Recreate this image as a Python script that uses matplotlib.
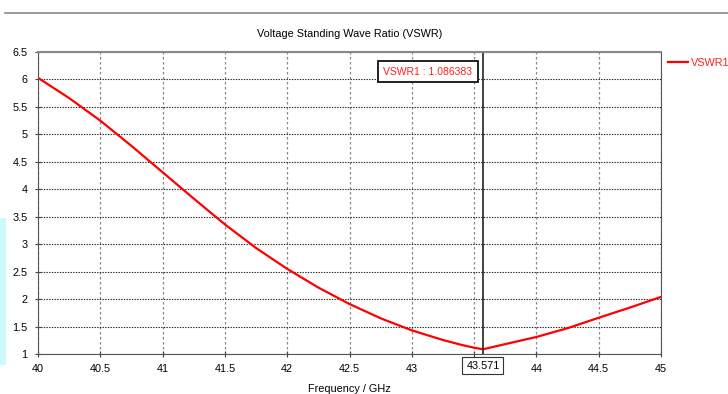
import matplotlib
matplotlib.use('Agg')
import matplotlib.pyplot as plt
import matplotlib.patches as patches

plt.rcParams['font.family'] = ['Liberation Sans', 'DejaVu Sans']

# data
freq = [40.0, 40.25, 40.5, 40.75, 41.0, 41.25, 41.5, 41.75, 42.0, 42.25, 42.5,
        42.75, 43.0, 43.25, 43.4, 43.5, 43.571, 43.75, 44.0, 44.25, 44.5, 44.75, 45.0]
vswr = [6.03, 5.66, 5.25, 4.79, 4.31, 3.83, 3.36, 2.93, 2.55, 2.21, 1.91,
        1.65, 1.43, 1.255, 1.165, 1.115, 1.086, 1.18, 1.31, 1.47, 1.66, 1.845, 2.04]
marker_x = 43.571
marker_y = 1.086383
xticks = [40, 40.5, 41, 41.5, 42, 42.5, 43, 43.5, 44, 44.5, 45]
xlabels = ['40', '40.5', '41', '41.5', '42', '42.5', '43', '', '44', '44.5', '45']
yticks = [1, 1.5, 2, 2.5, 3, 3.5, 4, 4.5, 5, 5.5, 6, 6.5]
ylabels = ['1', '1.5', '2', '2.5', '3', '3.5', '4', '4.5', '5', '5.5', '6', '6.5']

fig = plt.figure(figsize=(7.28, 3.94), dpi=100)
ax = fig.add_axes([38/728, 1-354/394, 623/728, 302/394])

ax.plot(freq, vswr, color='#ff0000', lw=1.6, label='VSWR1')

ax.set_xlim(40, 45)
ax.set_ylim(1, 6.5)
ax.set_xticks(xticks)
ax.set_xticklabels(xlabels, fontsize=7.8)
ax.set_yticks(yticks)
ax.set_yticklabels(ylabels, fontsize=7.8)
ax.tick_params(direction='inout', length=5, width=0.8, color='#444444', pad=5)
ax.xaxis.grid(True, ls=(0, (2, 2)), color='#888888', lw=0.9)
ax.yaxis.grid(True, ls=(0, (1.2, 1.2)), color='#222222', lw=0.8)

for s in ['left', 'bottom', 'right']:
    ax.spines[s].set_color('#555555')
ax.spines['top'].set_color('#888888')
ax.spines['top'].set_linewidth(1.5)

# marker
ax.axvline(marker_x, color='#222222', lw=1.2)
ax.text(marker_x, 1 - 0.12, '43.571', ha='center', va='top', fontsize=7.8,
        bbox=dict(boxstyle='square,pad=0.35', fc='white', ec='#333333', lw=0.8))
ax.text(43.13, 6.14, 'VSWR1 : %.6f' % marker_y, ha='center', va='center', fontsize=7.5,
        color='#ff2020',
        bbox=dict(boxstyle='square,pad=0.55', fc='white', ec='#111111', lw=1.3))

ax.set_title('Voltage Standing Wave Ratio (VSWR)', fontsize=7.8, pad=11)
ax.set_xlabel('Frequency / GHz', fontsize=7.8, labelpad=7)

leg = fig.legend(loc='center left', bbox_to_anchor=(668/728, 1-63/394), frameon=False,
                 fontsize=7.8, handlelength=1.8, handletextpad=0.3,
                 borderpad=0, borderaxespad=0)
for t in leg.get_texts():
    t.set_color('#ff2020')

# decorations outside the plot
fig.add_artist(plt.Line2D([5/728, 1], [1-13/394, 1-13/394], color='#888888', lw=1.2))
fig.add_artist(patches.Rectangle((0, 1-365/394), 6/728, 147/394, color='#ccfafa', lw=0))

fig.savefig('out.png', dpi=100)
